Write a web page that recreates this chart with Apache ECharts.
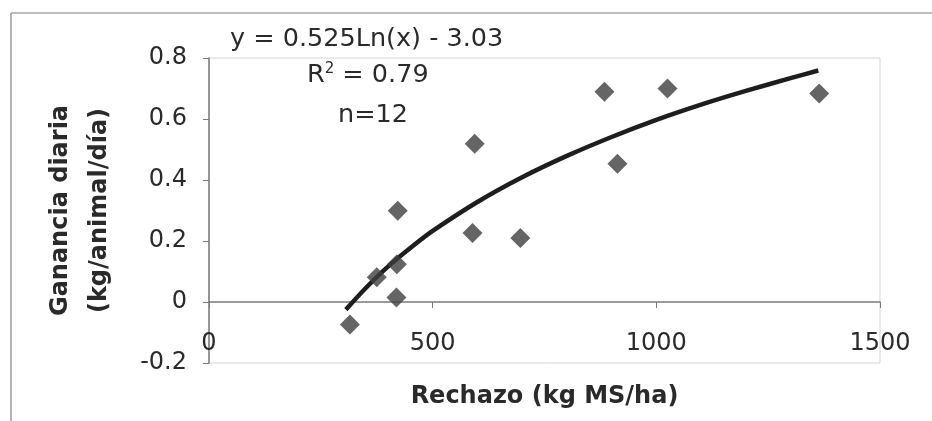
<!DOCTYPE html>
<html>
<head>
<meta charset="utf-8">
<script src="https://cdn.jsdelivr.net/npm/echarts@6/dist/echarts.min.js"></script>
<style>
html,body{margin:0;padding:0;background:#fff;}
#chart{width:932px;height:421px;}
</style>
</head>
<body>
<div id="chart"></div>
<script>
// Observed data points (Rechazo kg MS/ha, Ganancia diaria kg/animal/día)
var rechazo  = [315, 375, 420, 419, 422, 589, 594, 696, 884, 913, 1025, 1364];
var ganancia = [-0.074, 0.081, 0.124, 0.015, 0.299, 0.226, 0.519, 0.21, 0.689, 0.453, 0.70, 0.684];
// Trend line
var curveX = [306, 350, 400, 450, 500, 600, 700, 800, 900, 1000, 1100, 1200, 1300, 1362];
var curveY = [-0.025, 0.045, 0.116, 0.177, 0.233, 0.328, 0.409, 0.479, 0.541, 0.597, 0.647, 0.692, 0.734, 0.759];
var yTicks = [-0.2, 0, 0.2, 0.4, 0.6, 0.8];
var xTicks = [0, 500, 1000, 1500];
var eqText = 'y = 0.525Ln(x) - 3.03';
var r2Text = '0.79';
var nText = 'n=12';

var pts = rechazo.map(function(x, i){ return [x, ganancia[i]]; });
var curve = curveX.map(function(x, i){ return [x, curveY[i]]; });

var FONT = 'DejaVu Sans';
var chart = echarts.init(document.getElementById('chart'), null, {renderer:'canvas'});
chart.setOption({
  animation: false,
  backgroundColor: '#fff',
  grid: {left: 209, right: 52, top: 58, bottom: 58, containLabel: false, outerBoundsMode: 'none',
         show: true, borderColor: '#d4d4d4', borderWidth: 1},
  xAxis: {
    type: 'value', min: xTicks[0], max: xTicks[xTicks.length-1], interval: 500,
    name: 'Rechazo (kg MS/ha)', nameLocation: 'middle', nameGap: 22,
    nameTextStyle: {fontFamily: FONT, fontWeight: 'bold', fontSize: 24, color: '#2a2a2a'},
    axisLine: {onZero: true, lineStyle: {color: '#7a7a7a', width: 1.5}},
    axisTick: {show: true, inside: false, length: 6, lineStyle: {color: '#7a7a7a'}},
    axisLabel: {margin: -31, fontFamily: FONT, fontSize: 24, color: '#2a2a2a',
                formatter: function(v){ return String(v); }},
    splitLine: {show: false}
  },
  yAxis: {
    type: 'value', min: yTicks[0], max: yTicks[yTicks.length-1], interval: 0.2,
    name: 'Ganancia diaria\n(kg/animal/día)', nameLocation: 'middle', nameGap: 90, nameRotate: 90,
    nameTextStyle: {fontFamily: FONT, fontWeight: 'bold', fontSize: 24, lineHeight: 39, color: '#2a2a2a'},
    axisLine: {onZero: false, lineStyle: {color: '#7a7a7a', width: 1.5}},
    axisTick: {show: true, inside: false, length: 6, lineStyle: {color: '#7a7a7a'}},
    axisLabel: {margin: 22, fontFamily: FONT, fontSize: 24, color: '#2a2a2a'},
    splitLine: {show: false}
  },
  series: [
    {
      type: 'line', data: curve, smooth: 0.3, showSymbol: false, symbol: 'none',
      lineStyle: {color: '#1e1e1e', width: 4.5}, z: 3
    },
    {
      type: 'scatter', data: pts, symbol: 'diamond', symbolSize: [20, 20],
      itemStyle: {color: '#3f3f3f'}, z: 4
    }
  ],
  graphic: [
    {type: 'line', shape: {x1: 11, y1: 13, x2: 11, y2: 421}, style: {stroke: '#9a9a9a', lineWidth: 1.5}},
    {type: 'line', shape: {x1: 11, y1: 13, x2: 932, y2: 13}, style: {stroke: '#a8a8a8', lineWidth: 1.5}},
    {type: 'text', left: 230, top: 26, z: 10,
     style: {text: eqText, fontFamily: FONT, fontSize: 25.5, fill: '#2a2a2a'}},
    {type: 'text', left: 307, top: 62, z: 10,
     style: {text: 'R{s|2} = ' + r2Text, fontFamily: FONT, fontSize: 25.5, fill: '#2a2a2a',
       rich: {s: {fontSize: 15, fontFamily: FONT, verticalAlign: 'top', padding: [0,0,10,0]}}}},
    {type: 'text', left: 338, top: 102, z: 10,
     style: {text: nText, fontFamily: FONT, fontSize: 25.5, fill: '#2a2a2a'}}
  ]
});
</script>
</body>
</html>
